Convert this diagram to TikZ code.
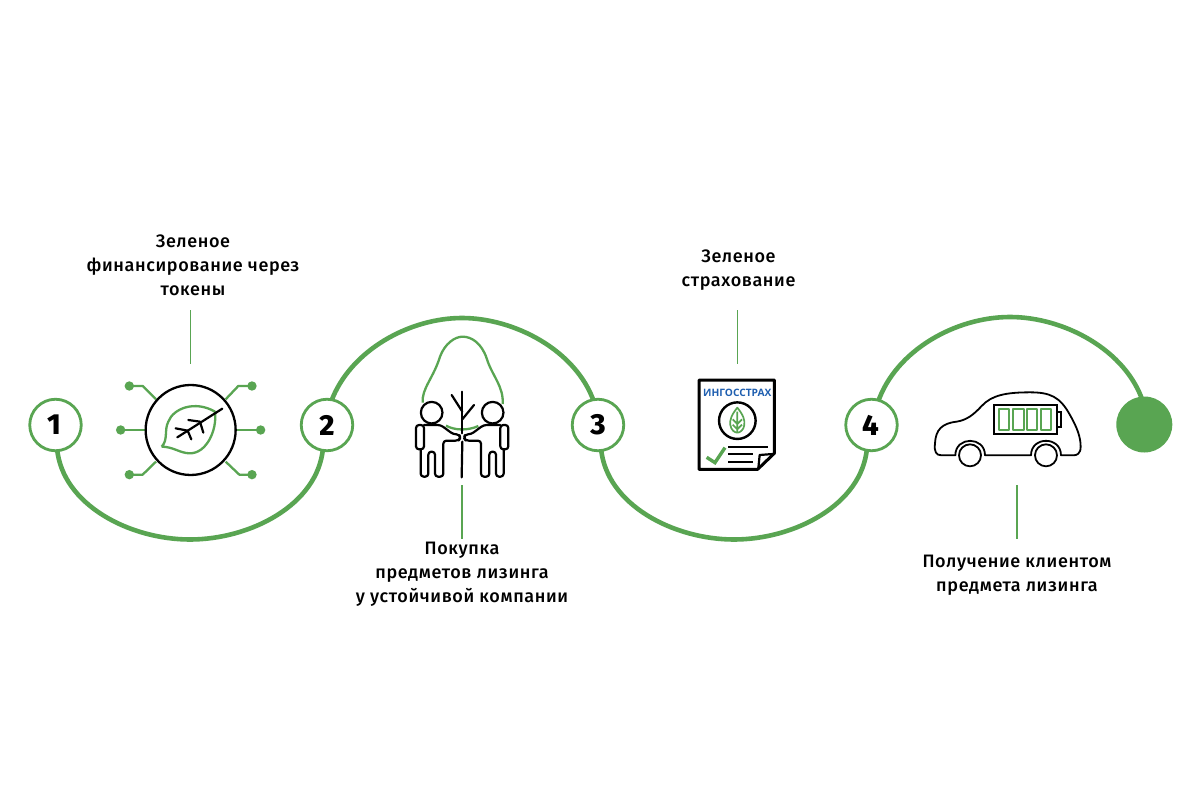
\documentclass[tikz,border=0pt]{standalone}
\usepackage{fontspec}
\setmainfont{Fira Sans Medium}[LetterSpace=3.5]
\newfontfamily\numfont{Fira Sans}[UprightFont=*-ExtraBold]
\newfontfamily\brandfont{Open Sans}[UprightFont=* Bold]
\definecolor{gr}{HTML}{59A552}
\definecolor{brand}{HTML}{1F5FB0}
\tikzset{
  numc/.style={circle,draw=gr,line width=2.8pt,fill=white,minimum size=51.5pt,inner sep=0pt,font=\numfont\fontsize{29}{29}\selectfont,text=black},
  arcl/.style={draw=gr,line width=4.6pt},
  stem/.style={draw=gr,line width=1.8pt},
  lab/.style={align=center,font=\fontsize{18}{24}\selectfont,text=black,inner sep=0pt},
  thing/.style={draw=gr,line width=2.3pt,line join=round},
  blk/.style={draw=black,line width=2.2pt,line join=round,line cap=round},
  z1/.style={shift={(20,340)},x=0.3333pt,y=-0.3333pt},
  z2/.style={shift={(400,320)},x=0.3333pt,y=-0.3333pt},
  z3/.style={shift={(685,370)},x=0.3333pt,y=-0.3333pt},
  z4/.style={shift={(920,380)},x=0.3333pt,y=-0.3333pt},
  dot/.style={circle,fill=gr,inner sep=0pt,minimum size=9.4pt},
}
\begin{document}
\begin{tikzpicture}[x=1pt,y=-1pt]
\useasboundingbox[fill=white] (0,0) rectangle (1200,800);
% arcs
\coordinate (a1) at (57,448);
\coordinate (a2) at (323,448);
\coordinate (b2) at (331,402);
\coordinate (b3) at (594,402);
\coordinate (c3) at (601,448);
\coordinate (c4) at (867,448);
\coordinate (d4) at (878,402);
\coordinate (d5) at (1143,402);
\draw[arcl] (a1) .. controls (62,505) and (130,539.5) .. (190,539.5) .. controls (250,539.5) and (318,505) .. (a2);
\draw[arcl] (b2) .. controls (350,350) and (410,318) .. (462,318) .. controls (514,318) and (576,350) .. (b3);
\draw[arcl] (c3) .. controls (606,505) and (674,539.5) .. (734,539.5) .. controls (794,539.5) and (862,505) .. (c4);
\draw[arcl] (d4) .. controls (896,350) and (956,317) .. (1010,317) .. controls (1064,317) and (1126,350) .. (d5);
% number nodes
\node[numc] (n1) at (55.5,425) {\hspace{-3pt}1};
\node[numc] (n2) at (327,425) {2};
\node[numc] (n3) at (598,425) {3};
\node[numc] (n4) at (871.5,425) {\hspace{-2pt}4};
\node[circle,fill=gr,minimum size=56pt,inner sep=0pt] (n5) at (1144.3,424.5) {};
% stems and labels
\node[lab] (t1) at (193,265) {Зеленое\\финансирование через\\токены};
\node[lab] (t2) at (462,574.5) {Покупка\\предметов лизинга\\у устойчивой компании};
\node[lab] (t3) at (738.5,270) {Зеленое\\страхование};
\node[lab] (t4) at (1017,575) {Получение клиентом\\предмета лизинга};
\coordinate (s1a) at (190.5,310); \coordinate (s1b) at (190.5,363.5);
\coordinate (s2a) at (462,485); \coordinate (s2b) at (462,539);
\coordinate (s3a) at (737.5,310); \coordinate (s3b) at (737.5,364);
\coordinate (s4a) at (1017,485); \coordinate (s4b) at (1017,539);
\draw[stem] (s1a)--(s1b);
\draw[stem] (s2a)--(s2b);
\draw[stem] (s3a)--(s3b);
\draw[stem] (s4a)--(s4b);
% icon 1
\begin{scope}[z1]
\node[dot] (d1) at (328,138) {};
\node[dot] (d2) at (696,138) {};
\node[dot] (d3) at (302,270) {};
\node[dot] (d4) at (722,270) {};
\node[dot] (d5) at (328,404) {};
\node[dot] (d6) at (696,404) {};
\draw[thing] (d1.center)--(368,138)--(408,178);
\draw[thing] (d2.center)--(655,138)--(617,178);
\draw[thing] (d3.center)--(378,270);
\draw[thing] (d4.center)--(648,270);
\draw[thing] (d5.center)--(368,404)--(408,365);
\draw[thing] (d6.center)--(658,404)--(617,365);
\draw[blk,line width=2.3pt] (512,270) circle[radius=45pt];
\draw[thing] (425,320) .. controls (445,300) and (432,270) .. (445,245) .. controls (460,205) and (525,180) .. (585,215) .. controls (592,270) and (560,340) .. (510,340) .. controls (480,340) and (460,320) .. (425,320);
\draw[blk] (472,292)--(607,206);
\draw[blk] (467,265)--(503,272)--(514,298);
\draw[blk] (505,240)--(540,245)--(550,278);
\end{scope}
% icon 2
\begin{scope}[z2]
\draw[thing] (68,248) .. controls (65,205) and (100,175) .. (120,110) .. controls (135,70) and (165,50) .. (188,50) .. controls (215,50) and (245,70) .. (260,115) .. controls (275,165) and (312,200) .. (308,252);
\draw[thing] (138,317) .. controls (165,332) and (205,332) .. (235,318);
\draw[blk] (187,215)--(187,340);
\draw[blk] (187,365)--(185,472);
\draw[blk] (155,225)--(187,275);
\draw[blk] (222,255)--(187,298);
\foreach \sx/\off in {1/0,-1/373}{
\begin{scope}[xscale=\sx,xshift=\off*0.3333pt*\sx]
\draw[blk] (95,278) circle[radius=10.8pt];
\draw[blk,rounded corners=3pt] (72,315) -- (122,315) -- (160,343) -- (178,343) -- (181,354) -- (176,362) -- (130,362) -- (130,470) -- (105,470) -- (105,395) -- (85,395) -- (85,470) -- (62,470) -- (62,388);
\draw[blk,rounded corners=3pt] (48,315) rectangle (72,388);
\end{scope}}
\end{scope}
% icon 3
\begin{scope}[z3]
\draw[draw=black,line width=3pt,line join=round] (42,30) -- (268,30) -- (268,250) -- (218,298) -- (42,298) -- cycle;
\draw[draw=black,line width=2.2pt,line join=round] (264,252) -- (224,255) -- (220,295);
\node[font=\brandfont\fontsize{10.2}{10}\selectfont,text=brand,inner sep=0pt] (br) at (157,68) {ИНГОССТРАХ};
\draw[draw=black,line width=2.4pt] (157,152) circle[radius=18.3pt];
\draw[thing,line width=1.7pt] (157,113) .. controls (175,135) and (180,150) .. (178,165) .. controls (176,180) and (165,188) .. (157,188) .. controls (149,188) and (138,180) .. (136,165) .. controls (134,150) and (139,135) .. (157,113) -- cycle;
\draw[thing,line width=1.7pt] (157,125)--(157,188) (143,148)--(157,162)--(171,148) (143,164)--(157,178)--(171,164);
\draw[draw=black,line width=2pt] (130,232)--(248,232) (130,253)--(205,253) (130,275)--(205,275);
\draw[draw=gr,line width=3.4pt,line join=miter] (65,262)--(90,278)--(120,233);
\end{scope}
% icon 4
\begin{scope}[z4]
\draw[blk,line width=1.8pt] (106,226) -- (65,226) .. controls (48,226) and (42,215) .. (45,190) .. controls (47,150) and (65,130) .. (110,125) .. controls (140,120) and (160,105) .. (185,78) .. controls (215,45) and (260,37) .. (330,37) .. controls (390,37) and (420,50) .. (450,105) .. controls (470,140) and (482,170) .. (482,200) .. controls (482,222) and (470,226) .. (460,226) -- (423,226) .. controls (423,168) and (333,168) .. (333,226) -- (195,226) .. controls (195,168) and (106,168) .. (106,226);
\draw[blk,line width=1.8pt,fill=white] (150,226) circle[radius=11pt];
\draw[blk,line width=1.8pt,fill=white] (378,226) circle[radius=11pt];
\draw[draw=black,line width=2.2pt] (222,75) rectangle (410,162);
\draw[draw=black,line width=2.2pt] (410,95)--(422,95)--(422,142)--(410,142);
\foreach \a/\b in {236/268,280/312,322/352,362/392}{
\draw[thing,line width=1.7pt] (\a,87) rectangle (\b,150);}
\end{scope}
\end{tikzpicture}
\end{document}
